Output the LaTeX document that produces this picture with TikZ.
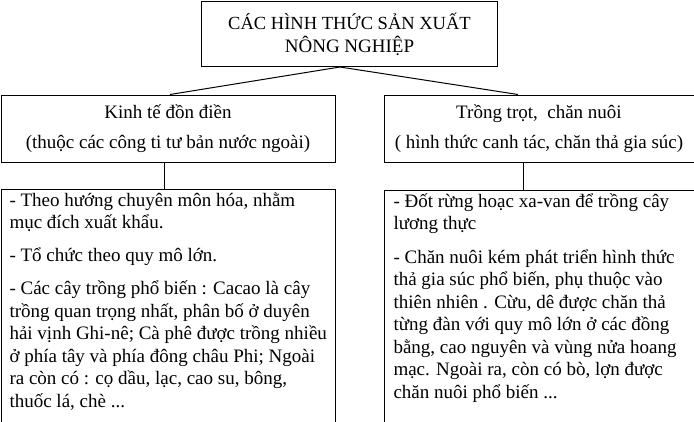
\documentclass[tikz,border=0pt]{standalone}
\usepackage{fontspec}
\setmainfont{Liberation Serif}
\usetikzlibrary{positioning}

\begin{document}
\begin{tikzpicture}[x = 1pt, y = -1pt, line width = 1pt]
\tikzstyle{BoxStyle}=[shape = rectangle,
                      draw,
                      align = center,
                      inner sep = 0pt,
                      font = \fontsize{19}{23}\selectfont]
\tikzstyle{ListStyle}=[shape = rectangle,
                       draw,
                       anchor = north west,
                       inner xsep = 4pt,
                       inner ysep = 3pt,
                       font = \fontsize{19}{22.5}\selectfont]
\useasboundingbox (0,0) rectangle (694,421);
% the three title boxes
\node[BoxStyle, minimum width = 296pt, minimum height = 65pt] (hinhthuc) at (349.5,34)
     {\fontsize{18.5}{20.5}\selectfont C\'AC HÌNH THỨC SẢN XUẤT\\NÔNG NGHIỆP};
\node[BoxStyle, minimum width = 334pt, minimum height = 67pt] (dondien) at (168,128.5)
     {Kinh tế đồn điền\\[7pt](thuộc các công ti tư bản nước ngoài)};
\node[BoxStyle, minimum width = 310pt, minimum height = 67pt] (trongtrot) at (539,128.5)
     {Trồng trọt, \ chăn nuôi\\[7pt]( hình thức canh tác, chăn thả gia súc)};
% the two lists
\node[ListStyle] (dondienlist) at (1,189)
     {\parbox[t][250pt][t]{326pt}{\raggedright\leftskip = 4pt\parskip = 10.5pt
      - Theo hướng chuyên môn hóa, nhằm\\mục đích xuất khẩu.\par
      - Tổ chức theo quy mô lớn.\par
      - Các cây trồng phổ biến : Cacao là cây\\trồng quan trọng nhất, phân bố ở duyên\\hải vịnh Ghi-nê; Cà phê được trồng nhiều\\ở phía tây và phía đông châu Phi; Ngoài\\ra còn có : cọ dầu, lạc, cao su, bông,\\thuốc lá, chè ...}};
\node[ListStyle] (trongtrotlist) at (384,190)
     {\parbox[t][250pt][t]{318pt}{\raggedright\leftskip = 5pt\parskip = 11pt
      - Đốt rừng hoạc xa-van để trồng cây\\lương thực\par
      - Chăn nuôi kém phát triển hình thức\\thả gia súc phổ biến, phụ thuộc vào\\thiên nhiên . Cừu, dê được chăn thả\\từng đàn với quy mô lớn ở các đồng\\bằng, cao nguyên và vùng nửa hoang\\mạc. Ngoài ra, còn có bò, lợn được\\chăn nuôi phổ biến ...}};
% connectors
\coordinate (fork) at (340,67);
\draw (fork) -- ([xshift = 2pt]dondien.north);
\draw (fork) -- ([xshift = -21pt]trongtrot.north);
\draw ([xshift = -4pt]dondien.south) -- ([xshift = -4pt]dondien.south |- dondienlist.north);
\draw ([xshift = -16pt]trongtrot.south) -- ([xshift = -16pt]trongtrot.south |- trongtrotlist.north);
\end{tikzpicture}
\end{document}
